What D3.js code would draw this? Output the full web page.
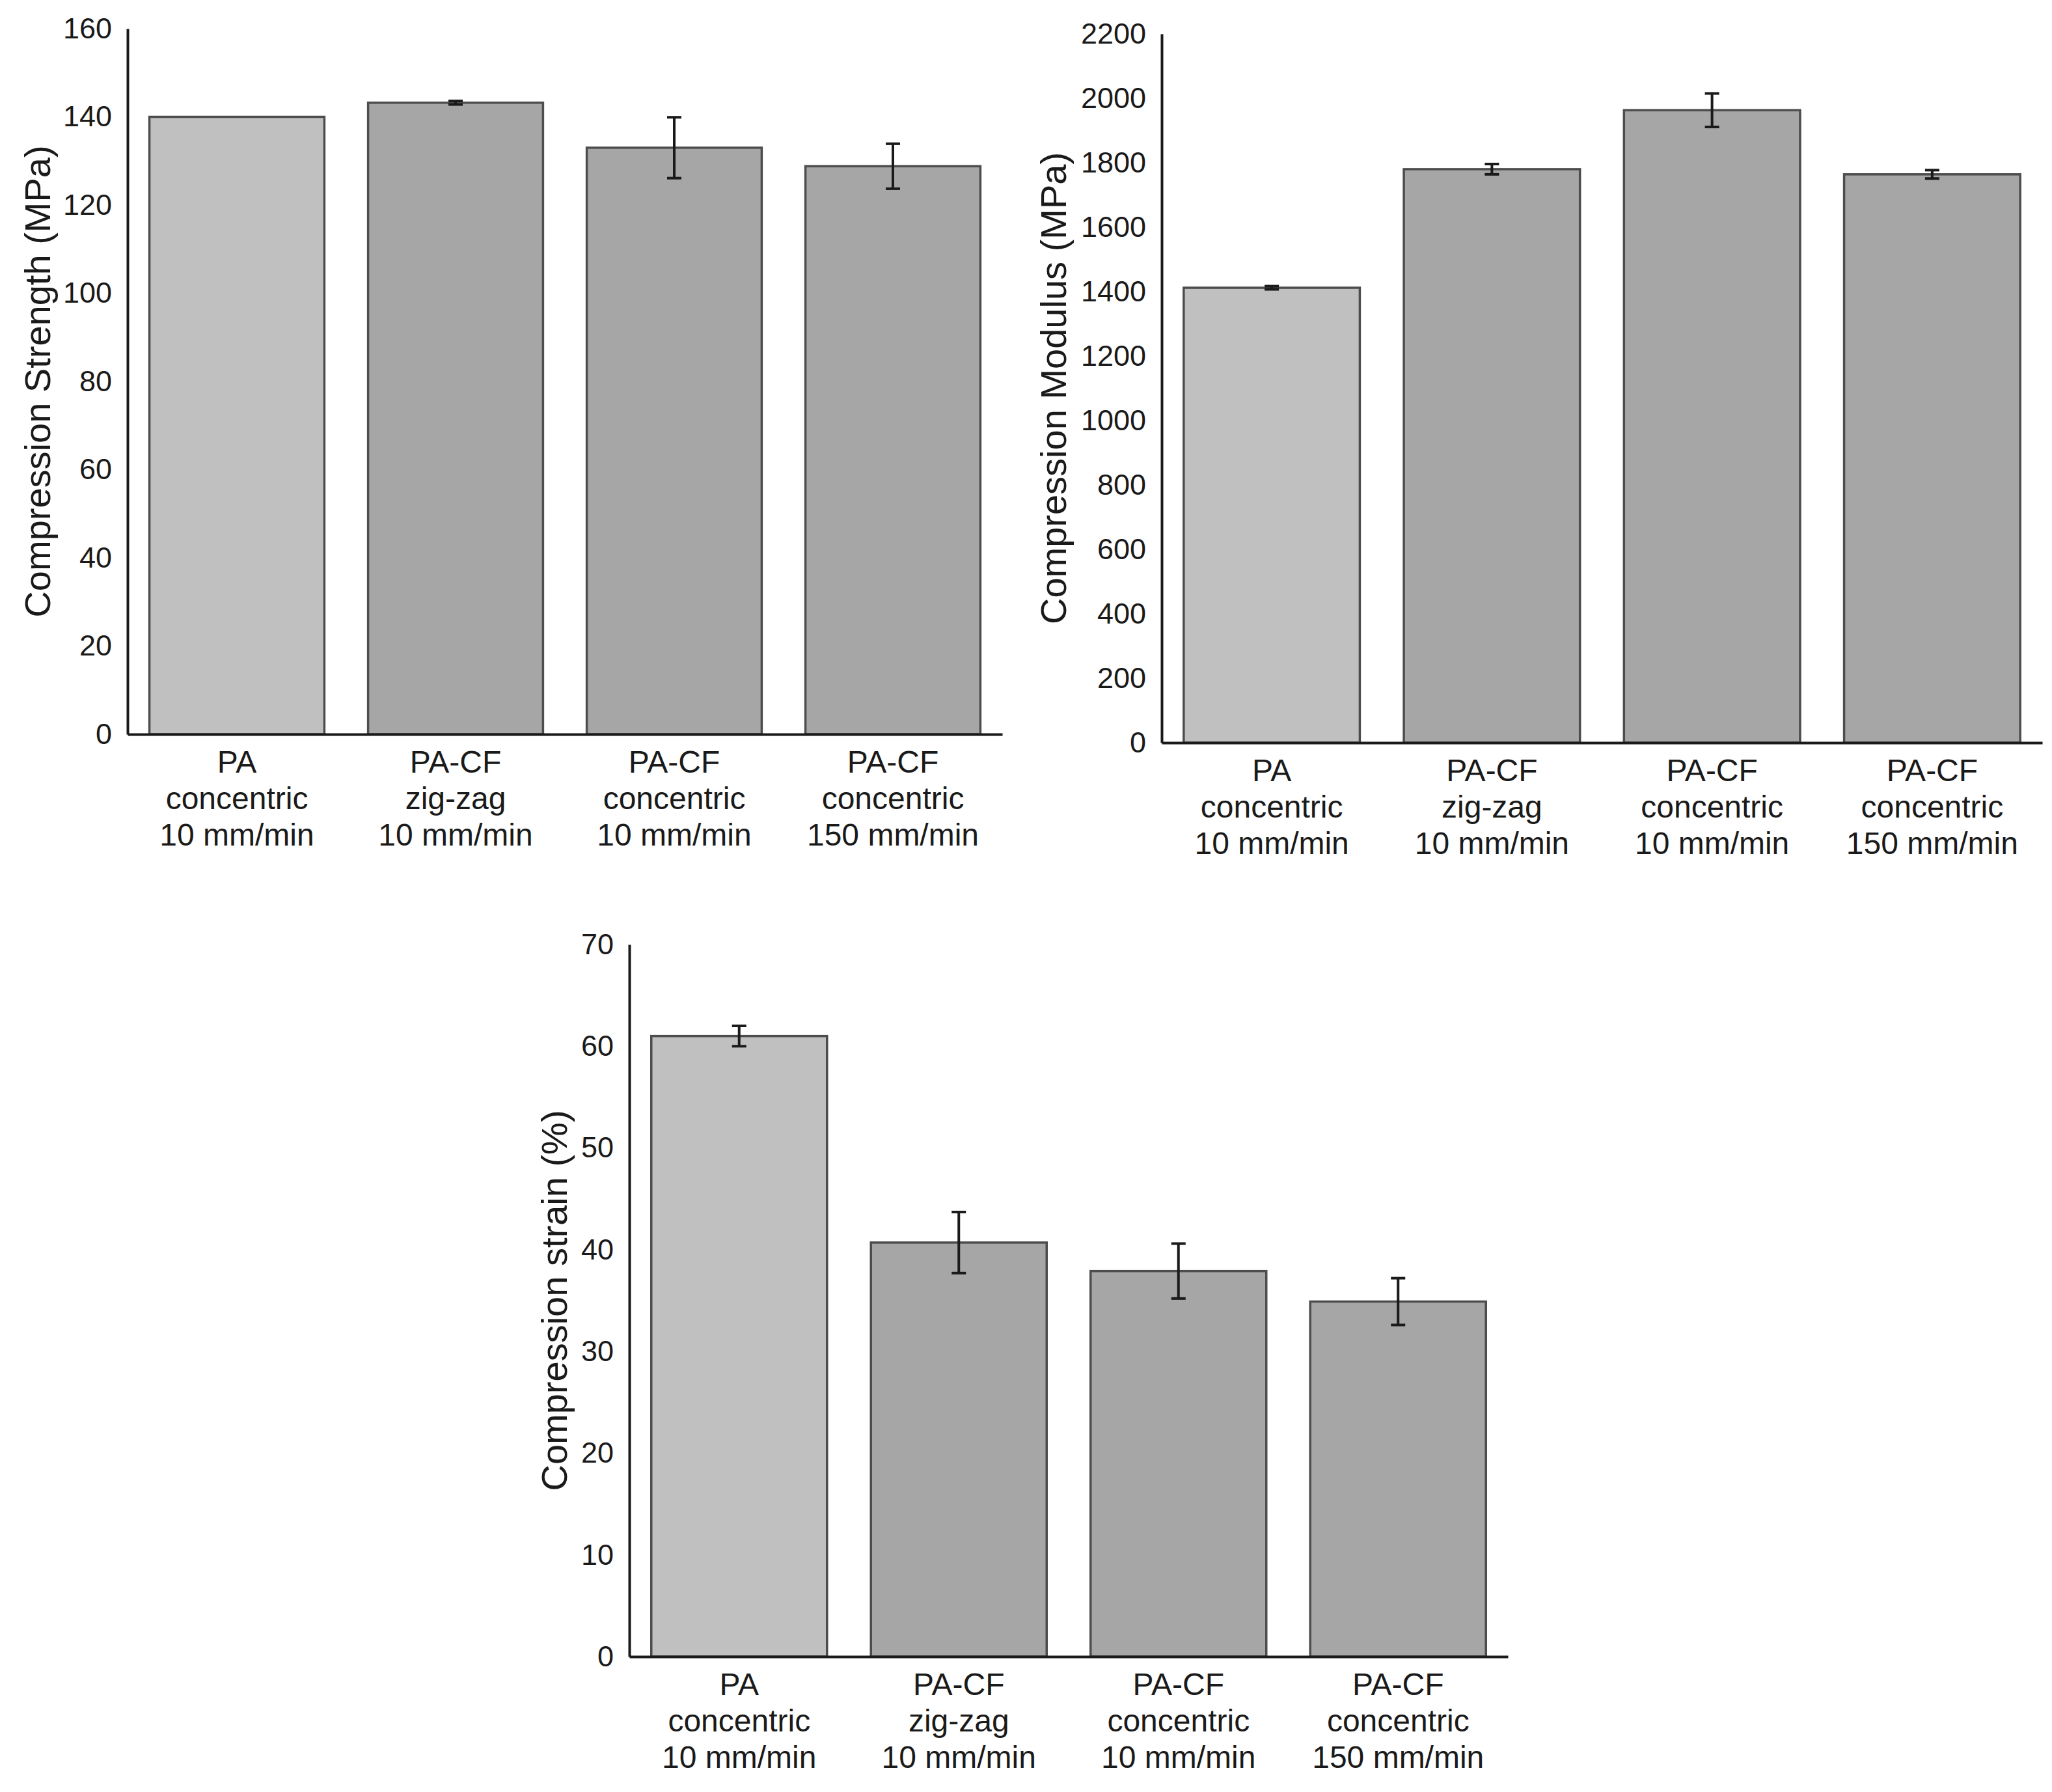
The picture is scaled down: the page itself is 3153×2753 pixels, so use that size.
<!DOCTYPE html>
<html>
<head>
<meta charset="utf-8">
<script src="https://cdn.jsdelivr.net/npm/d3@7"></script>
<style>
  body { margin: 0; background: #fff; }
  text { font-family: "Liberation Sans", Arial, sans-serif; fill: #1a1a1a; }
</style>
</head>
<body>
<svg id="fig" width="3153" height="2753"></svg>
<script>
// categories (one entry per bar, split into label lines)
const categories = [
  ['PA', 'concentric', '10 mm/min'],
  ['PA-CF', 'zig-zag', '10 mm/min'],
  ['PA-CF', 'concentric', '10 mm/min'],
  ['PA-CF', 'concentric', '150 mm/min']
];
const barFills = ['#c0c0c0', '#a6a6a6', '#a6a6a6', '#a6a6a6'];

// values
const strengthValues = [140, 143.2, 133, 128.8];
const strengthErrors = [0, 0.4, 6.9, 5.1];
const strengthTicks = [0, 20, 40, 60, 80, 100, 120, 140, 160];

const modulusValues = [1412, 1780, 1963, 1764];
const modulusErrors = [5, 16, 52, 13];
const modulusTicks = [0, 200, 400, 600, 800, 1000, 1200, 1400, 1600, 1800, 2000, 2200];

const strainValues = [61, 40.7, 37.9, 34.9];
const strainErrors = [1.0, 3.0, 2.7, 2.3];
const strainTicks = [0, 10, 20, 30, 40, 50, 60, 70];

const svg = d3.select('#fig');

const drawPanel = (props) => {
  const { x0, x1, yBottom, yTop, values, errors, ticks, yLabel, titleX } = props;
  const keys = categories.map((d, i) => i);

  const xScale = d3.scaleBand()
    .domain(keys)
    .range([x0, x1])
    .paddingInner(0.2)
    .paddingOuter(0.1);

  const yScale = d3.scaleLinear()
    .domain([0, ticks[ticks.length - 1]])
    .range([yBottom, yTop]);

  const g = svg.append('g');

  // bars
  g.selectAll('.bar').data(keys)
    .enter().append('rect')
      .attr('class', 'bar')
      .attr('x', d => xScale(d))
      .attr('width', xScale.bandwidth())
      .attr('y', d => yScale(values[d]))
      .attr('height', d => yBottom - yScale(values[d]))
      .attr('fill', d => barFills[d])
      .attr('stroke', '#4d4d4d')
      .attr('stroke-width', 3.5);

  // error bars
  const cap = 11;
  const err = g.selectAll('.err').data(keys.filter(d => errors[d] > 0))
    .enter().append('g').attr('class', 'err')
      .attr('stroke', '#1a1a1a')
      .attr('stroke-width', 4);
  const cx = d => xScale(d) + xScale.bandwidth() / 2;
  err.append('line')
    .attr('x1', cx).attr('x2', cx)
    .attr('y1', d => yScale(values[d] + errors[d]))
    .attr('y2', d => yScale(values[d] - errors[d]));
  err.append('line')
    .attr('x1', d => cx(d) - cap).attr('x2', d => cx(d) + cap)
    .attr('y1', d => yScale(values[d] + errors[d]))
    .attr('y2', d => yScale(values[d] + errors[d]));
  err.append('line')
    .attr('x1', d => cx(d) - cap).attr('x2', d => cx(d) + cap)
    .attr('y1', d => yScale(values[d] - errors[d]))
    .attr('y2', d => yScale(values[d] - errors[d]));

  // y axis
  const yAxis = d3.axisLeft(yScale)
    .tickValues(ticks)
    .tickFormat(d3.format('d'))
    .tickSize(0)
    .tickSizeOuter(0)
    .tickPadding(24);
  const yAxisG = g.append('g')
    .attr('transform', `translate(${x0},0)`)
    .call(yAxis);
  yAxisG.select('.domain').attr('stroke', '#1a1a1a').attr('stroke-width', 4);
  yAxisG.selectAll('.tick text')
    .attr('font-size', 45)
    .attr('fill', '#1a1a1a')
    .attr('font-family', '"Liberation Sans", Arial, sans-serif');

  // x axis
  const xAxis = d3.axisBottom(xScale)
    .tickSize(0)
    .tickSizeOuter(0)
    .tickFormat('');
  const xAxisG = g.append('g')
    .attr('transform', `translate(0,${yBottom})`)
    .call(xAxis);
  xAxisG.select('.domain').attr('stroke', '#1a1a1a').attr('stroke-width', 4);

  // multi-line category labels
  xAxisG.selectAll('.tick text').remove();
  xAxisG.selectAll('.tick').each(function (d) {
    const t = d3.select(this).append('text')
      .attr('text-anchor', 'middle')
      .attr('font-size', 48)
      .attr('fill', '#1a1a1a')
      .attr('font-family', '"Liberation Sans", Arial, sans-serif');
    categories[d].forEach((line, i) => {
      t.append('tspan').attr('x', 0).attr('y', 59 + i * 56).text(line);
    });
  });

  // y title
  g.append('text')
    .attr('transform', `translate(${titleX},${(yBottom + yTop) / 2}) rotate(-90)`)
    .attr('text-anchor', 'middle')
    .attr('dy', '0.35em')
    .attr('font-size', 56)
    .text(yLabel);
};

drawPanel({
  x0: 196, x1: 1540, yBottom: 1128, yTop: 44,
  values: strengthValues, errors: strengthErrors, ticks: strengthTicks,
  yLabel: 'Compression Strength (MPa)', titleX: 57
});

drawPanel({
  x0: 1785, x1: 3138, yBottom: 1141, yTop: 52,
  values: modulusValues, errors: modulusErrors, ticks: modulusTicks,
  yLabel: 'Compression Modulus (MPa)', titleX: 1618
});

drawPanel({
  x0: 967, x1: 2317, yBottom: 2545, yTop: 1451,
  values: strainValues, errors: strainErrors, ticks: strainTicks,
  yLabel: 'Compression strain (%)', titleX: 851
});
</script>
</body>
</html>
